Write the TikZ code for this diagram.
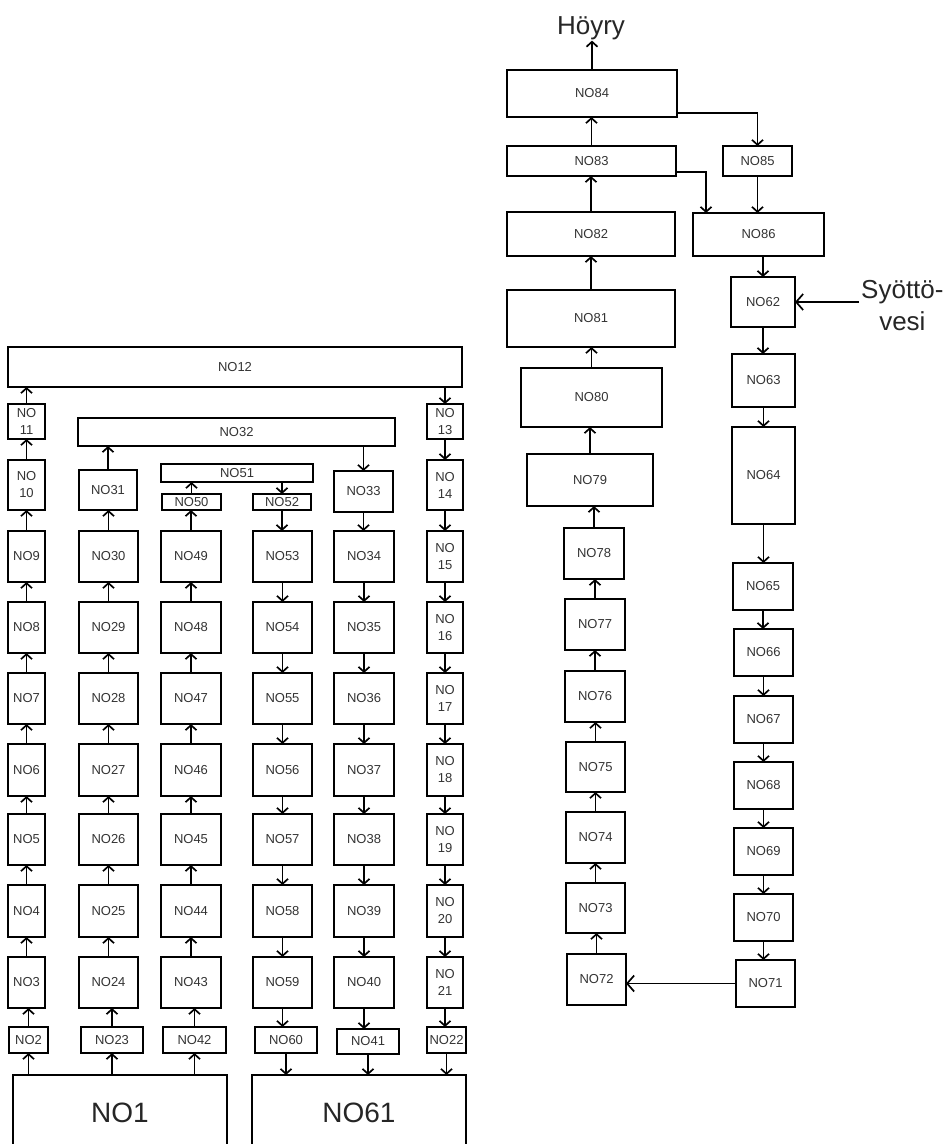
\documentclass[tikz,border=0pt]{standalone}
\usepackage{fontspec}
\setmainfont{Liberation Sans}
\usetikzlibrary{arrows.meta,calc}
\newcommand\lbl{\fontsize{13}{17}\selectfont}
\newcommand\bx[7][]{\node[box,minimum width={(#5-#3)*1pt},minimum height={(#6-#4)*1pt},#1] (#2) at ({(#3+#5)/2},{(#4+#6)/2}) {#7};}
\tikzset{
  box/.style={draw, line width=2pt, inner sep=0pt, outer sep=0pt, font=\lbl, text=black!80, align=center},
  arr/.style={line width=1.7pt, -{Straight Barb[length=5pt,width=11pt]}},
  bigarr/.style={line width=1.7pt, -{Straight Barb[length=7pt,width=16pt]}},
  big/.style={font=\fontsize{26}{32}\selectfont, text=black!85, inner sep=1pt},
}
\begin{document}
\begin{tikzpicture}[x=1pt,y=-1pt]
\useasboundingbox (0,0) rectangle (952,1144);
% ---------- left part ----------
\bx{NO12}{8}{347}{462}{387}{NO12}
\bx{NO11}{8}{404}{45}{439}{NO\\11}
\bx{NO13}{427}{404}{463}{439}{NO\\13}
\bx{NO32}{78}{418}{395}{446}{NO32}
\bx{NO51}{161}{464}{313}{482}{NO51}
\bx{NO10}{8}{460}{45}{510}{NO\\10}
\bx{NO31}{79}{470}{137}{510}{NO31}
\bx{NO50}{162}{494}{221}{510}{NO50}
\bx{NO52}{253}{494}{311}{510}{NO52}
\bx{NO33}{334}{471}{393}{512}{NO33}
\bx{NO14}{427}{460}{463}{510}{NO\\14}
% rows 2..8
\foreach \ya/\yb/\a/\b/\c/\d/\e/\f in {
  531/582/9/30/49/53/34/15,
  602/653/8/29/48/54/35/16,
  673/724/7/28/47/55/36/17,
  744/796/6/27/46/56/37/18,
  814/865/5/26/45/57/38/19,
  885/937/4/25/44/58/39/20,
  957/1008/3/24/43/59/40/21}{
  \bx{NO\a}{8}{\ya}{45}{\yb}{NO\a}
  \bx{NO\b}{79}{\ya}{138}{\yb}{NO\b}
  \bx{NO\c}{161}{\ya}{221}{\yb}{NO\c}
  \bx{NO\d}{253}{\ya}{312}{\yb}{NO\d}
  \bx{NO\e}{334}{\ya}{394}{\yb}{NO\e}
  \bx{NO\f}{427}{\ya}{463}{\yb}{NO\\\f}
}
\bx{NO2}{9}{1027}{48}{1053}{NO2}
\bx{NO23}{81}{1027}{143}{1053}{NO23}
\bx{NO42}{163}{1027}{226}{1053}{NO42}
\bx{NO60}{255}{1027}{317}{1053}{NO60}
\bx{NO41}{337}{1029}{399}{1054}{NO41}
\bx{NO22}{427}{1027}{466}{1053}{NO22}
\bx[draw=none,font=\fontsize{28}{32}\selectfont,text=black!85]{NO1}{13}{1075}{227}{1151}{NO1}
\bx[draw=none,font=\fontsize{28}{32}\selectfont,text=black!85]{NO61}{252}{1075}{466}{1151}{NO61}
\draw[line width=2pt] ($(NO1.south west)+(0,-7)$) |- (NO1.north east) -- ($(NO1.south east)+(0,-7)$);
\draw[line width=2pt] ($(NO61.south west)+(0,-7)$) |- (NO61.north east) -- ($(NO61.south east)+(0,-7)$);
% up chains
\foreach \i [evaluate=\i as \j using int(\i+1)] in {2,...,10,23,24,...,30,42,43,...,49}
  \draw[arr] (NO\i.north) -- (NO\i.north |- NO\j.south);
\draw[arr] (NO11.north) -- (NO11.north |- NO12.south);
\draw[arr] (NO31.north) -- (NO31.north |- NO32.south);
\draw[arr] (NO50.north) -- (NO50.north |- NO51.south);
\foreach \b in {NO2,NO23,NO42}
  \draw[arr] (\b.south |- NO1.north) -- (\b.south);
% down chains
\foreach \i [evaluate=\i as \j using int(\i+1)] in {13,14,...,21,33,34,...,40,52,53,...,59}
  \draw[arr] (NO\i.south) -- (NO\i.south |- NO\j.north);
\draw[arr] (NO13.north |- NO12.south) -- (NO13.north);
\draw[arr] (NO33.north |- NO32.south) -- (NO33.north);
\draw[arr] (NO52.north |- NO51.south) -- (NO52.north);
\foreach \a in {NO60,NO41,NO22}
  \draw[arr] (\a.south) -- (\a.south |- NO61.north);
% ---------- right part ----------
\bx{NO84}{507}{70}{677}{117}{NO84}
\bx{NO83}{507}{146}{676}{176}{NO83}
\bx{NO85}{723}{146}{792}{176}{NO85}
\bx{NO82}{507}{212}{675}{256}{NO82}
\bx{NO86}{693}{213}{824}{256}{NO86}
\bx{NO62}{731}{277}{795}{327}{NO62}
\bx{NO81}{507}{290}{675}{347}{NO81}
\bx{NO80}{521}{368}{662}{427}{NO80}
\bx{NO79}{527}{454}{653}{506}{NO79}
\bx{NO78}{564}{528}{624}{579}{NO78}
\bx{NO77}{565}{599}{625}{650}{NO77}
\bx{NO76}{565}{671}{625}{722}{NO76}
\bx{NO75}{566}{742}{625}{792}{NO75}
\bx{NO74}{566}{812}{625}{863}{NO74}
\bx{NO73}{566}{883}{625}{933}{NO73}
\bx{NO72}{567}{954}{626}{1005}{NO72}
\bx{NO63}{732}{354}{795}{407}{NO63}
\bx{NO64}{732}{427}{795}{524}{NO64}
\bx{NO65}{733}{563}{793}{610}{NO65}
\bx{NO66}{734}{629}{793}{676}{NO66}
\bx{NO67}{734}{696}{793}{743}{NO67}
\bx{NO68}{734}{762}{793}{809}{NO68}
\bx{NO69}{734}{828}{793}{875}{NO69}
\bx{NO70}{734}{894}{793}{941}{NO70}
\bx{NO71}{736}{960}{795}{1007}{NO71}
\node[big,anchor=base] (hoyry) at (591,34) {Höyry};
\node[big,align=center,anchor=west,inner sep=2pt] (syotto) at (859,306) {Syöttö-\\vesi};
% right chains
\foreach \i [evaluate=\i as \j using int(\i+1)] in {62,63,...,70}
  \draw[arr] (NO\i.south) -- (NO\i.south |- NO\j.north);
\foreach \i [evaluate=\i as \j using int(\i+1)] in {72,73,...,83}
  \draw[arr] (NO\i.north) -- (NO\i.north |- NO\j.south);
\draw[arr] (NO84.north) -- (NO84.north |- hoyry.south);
\draw[bigarr] (NO71.west) -- (NO71.west -| NO72.east);
\draw[bigarr] (syotto.west |- NO62.east) -- (NO62.east);
\draw[arr] ($(NO84.south east)+(0,-4)$) -| (NO85.north);
\draw[arr] ($(NO83.south east)+(0,-4)$) -| ($(NO86.north west)+(13,0)$);
\draw[arr] (NO85.south) -- (NO85.south |- NO86.north);
\draw[arr] (NO62.north |- NO86.south) -- (NO62.north);
\end{tikzpicture}
\end{document}
